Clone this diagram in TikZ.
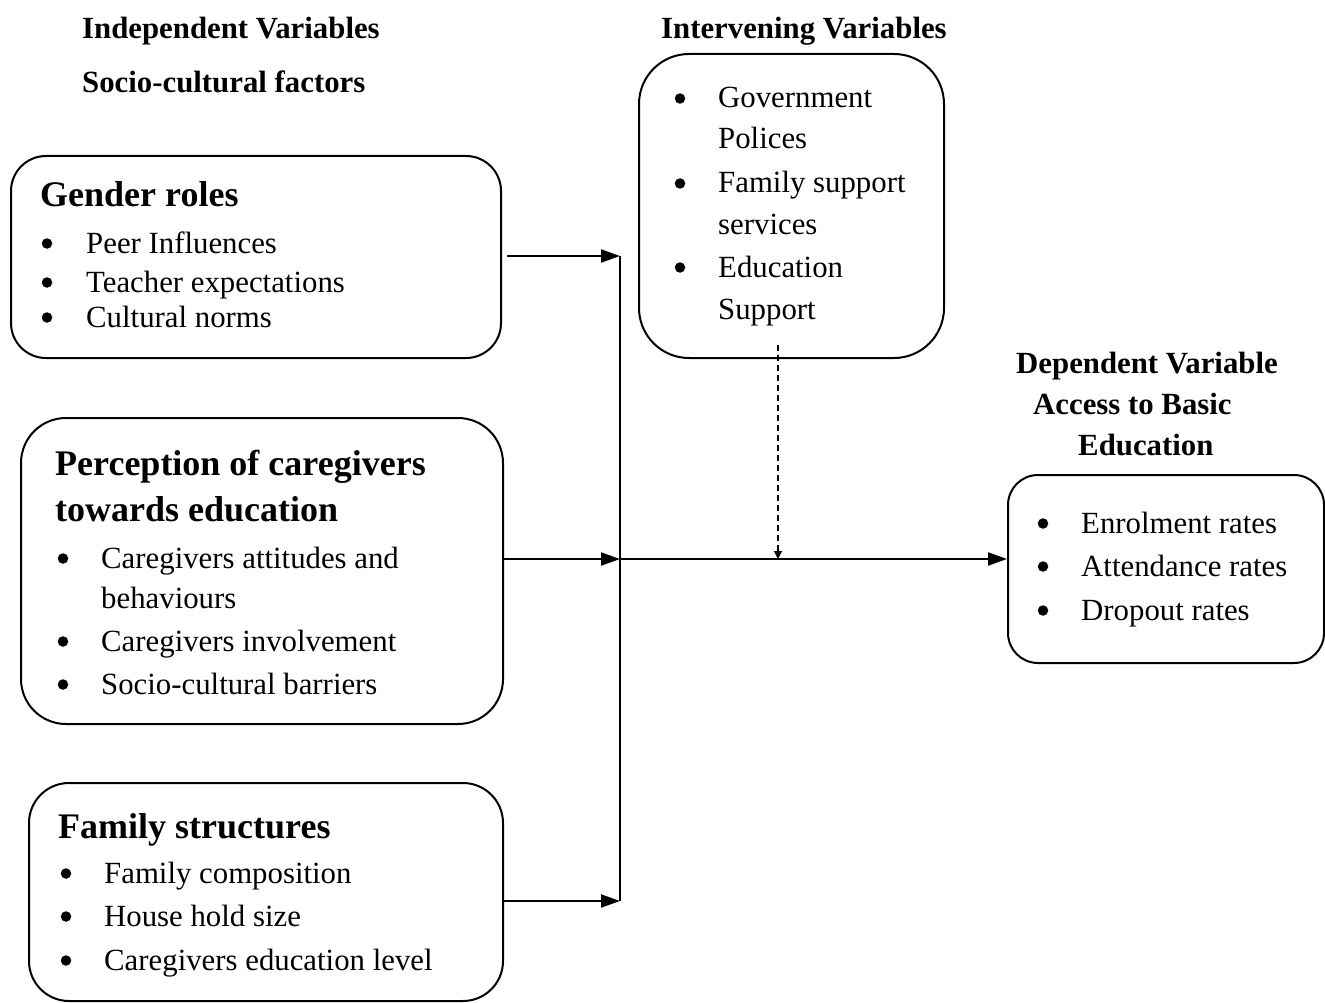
\documentclass[tikz,border=0pt]{standalone}
\usepackage{fontspec}
\setmainfont{Liberation Serif}
\usetikzlibrary{arrows.meta}
\newcommand\bodyfont{\fontsize{30.8}{37}\selectfont}
\newcommand\titlefont{\fontsize{36}{43}\selectfont\bfseries}
\newcommand\headfont{\fontsize{30.8}{37}\selectfont\bfseries}
\begin{document}
\begin{tikzpicture}[x=1pt,y=-1pt,
  box/.style={draw,line width=2pt,anchor=north west,inner sep=0pt},
  txt/.style={anchor=base west,inner sep=0pt,font=\bodyfont},
  bul/.style={circle,fill,inner sep=0pt,minimum size=10.5pt,yshift=9.5pt},
  ttl/.style={anchor=base west,inner sep=0pt,font=\titlefont},
  hd/.style={anchor=base west,inner sep=0pt,font=\headfont},
  arr/.style={line width=2pt,-{Triangle[length=19pt,width=13pt]}},
  conn/.style={line width=2pt}]
\useasboundingbox (0,0) rectangle (1325,1003);
% boxes
\node[box,rounded corners=35pt,minimum width=490pt,minimum height=202pt] (gbox) at (10,155) {};
\node[box,rounded corners=45pt,minimum width=482pt,minimum height=306pt] (pbox) at (20,417) {};
\node[box,rounded corners=40pt,minimum width=474pt,minimum height=218pt] (fbox) at (28,782) {};
\node[box,rounded corners=50pt,minimum width=305pt,minimum height=304pt] (ibox) at (638,53) {};
\node[box,rounded corners=30pt,minimum width=316pt,minimum height=188pt] (dbox) at (1007,474) {};
% headings
\node[hd] (h1) at (82,39) {Independent Variables};
\node[hd] (h2) at (82,93) {Socio-cultural factors};
\node[hd] (h3) at (661,39) {Intervening Variables};
\node[hd] (h4) at (1016,373) {Dependent Variable};
\node[hd] (h5) at (1033,414) {Access to Basic};
\node[hd] (h6) at (1078,455) {Education};
% gender roles
\node[ttl] (g0) at (40,207) {Gender roles};
\node[bul] (gb1) at (47,253) {};
\node[txt] (g1) at (86,253) {Peer Influences};
\node[bul] (gb2) at (47,292) {};
\node[txt] (g2) at (86,292) {Teacher expectations};
\node[bul] (gb3) at (47,327) {};
\node[txt] (g3) at (86,327) {Cultural norms};
% perception
\node[ttl] (p0) at (55,475) {Perception of caregivers};
\node[ttl] (p00) at (55,521) {towards education};
\node[bul] (pb1) at (63,568) {};
\node[txt] (p1) at (101,568) {Caregivers attitudes and};
\node[txt] (p1b) at (101,608) {behaviours};
\node[bul] (pb2) at (63,651) {};
\node[txt] (p2) at (101,651) {Caregivers involvement};
\node[bul] (pb3) at (63,694) {};
\node[txt] (p3) at (101,694) {Socio-cultural barriers};
% family
\node[ttl] (f0) at (58,838) {Family structures};
\node[bul] (fb1) at (66,883) {};
\node[txt] (f1) at (104,883) {Family composition};
\node[bul] (fb2) at (66,926) {};
\node[txt] (f2) at (104,926) {House hold size};
\node[bul] (fb3) at (66,970) {};
\node[txt] (f3) at (104,970) {Caregivers education level};
% intervening
\node[bul] (ib1) at (680,108) {};
\node[txt] (i1) at (718,108) {Government};
\node[txt] (i1b) at (718,149) {Polices};
\node[bul] (ib2) at (680,193) {};
\node[txt] (i2) at (718,193) {Family support};
\node[txt] (i2b) at (718,234) {services};
\node[bul] (ib3) at (680,277) {};
\node[txt] (i3) at (718,277) {Education};
\node[txt] (i3b) at (718,319) {Support};
% dependent
\node[bul] (db1) at (1043,533) {};
\node[txt] (d1) at (1081,533) {Enrolment rates};
\node[bul] (db2) at (1043,576) {};
\node[txt] (d2) at (1081,576) {Attendance rates};
\node[bul] (db3) at (1043,620) {};
\node[txt] (d3) at (1081,620) {Dropout rates};
% connectors
\coordinate (j1) at (620,256);
\coordinate (j2) at (620,559);
\coordinate (j3) at (620,901);
\coordinate (ga) at (507,256);
\coordinate (ds) at (778,345);
\coordinate (dm) at (778,559);
\draw[arr] (ga) -- (j1);
\draw[arr] (pbox.east |- j2) -- (j2);
\draw[arr] (fbox.east |- j3) -- (j3);
\draw[conn] (j1) -- (j3);
\draw[arr] (j2) -- (dbox.west |- j2);
\draw[line width=1.5pt,dash pattern=on 6pt off 4pt,-{Triangle[length=8pt,width=8pt]}] (ds) -- (dm);
\end{tikzpicture}
\end{document}
